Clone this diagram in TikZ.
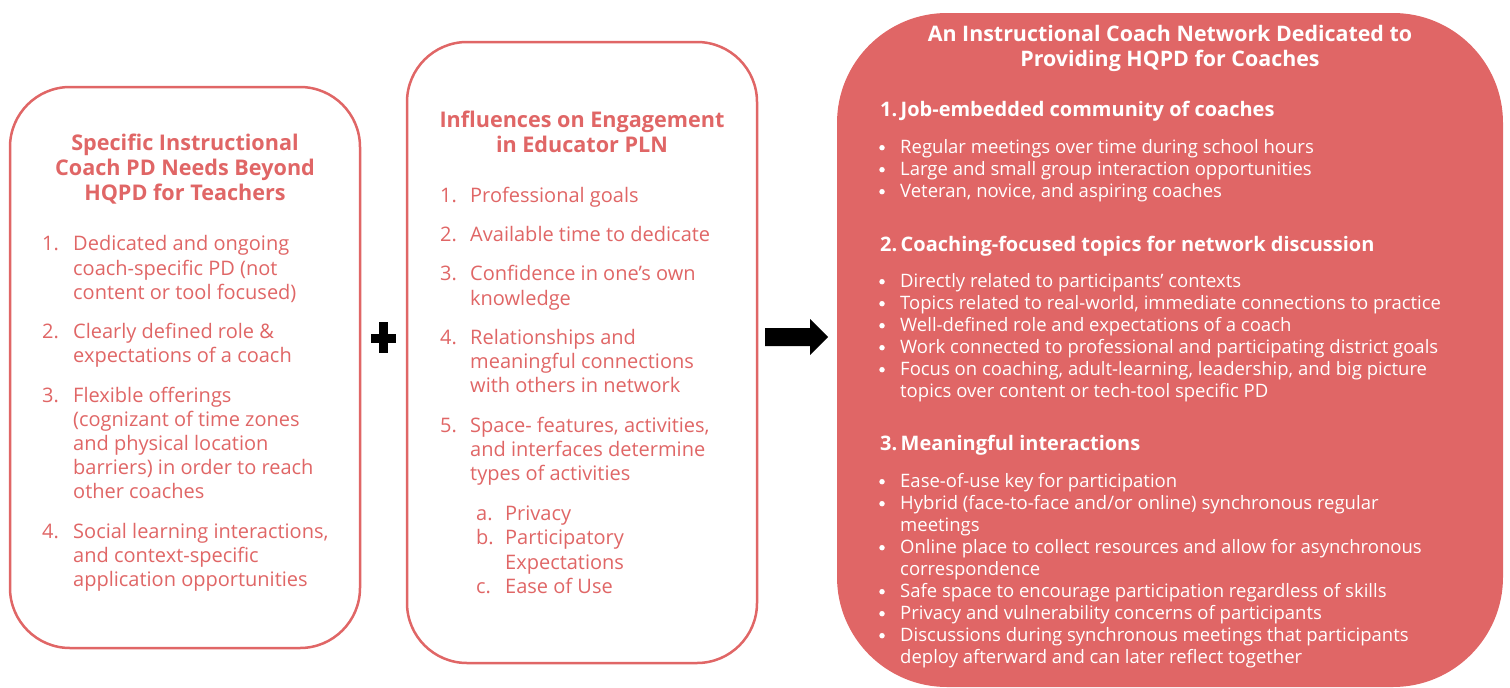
\documentclass[tikz,border=0pt]{standalone}
\usepackage{fontspec}
\setmainfont{Open Sans}
\definecolor{coral}{HTML}{E06666}
\begin{document}
\begin{tikzpicture}[x=1pt,y=-1pt,
  panel/.style={draw=coral, line width=2.5pt, rounded corners=60pt, fill=white, inner sep=0},
  bigpanel/.style={fill=coral, rounded corners=110pt, inner sep=0},
  head/.style={font=\bfseries\fontsize{21.6}{25}\selectfont, text=coral, inner sep=0, anchor=base},
  whead/.style={font=\bfseries\fontsize{21.4}{25}\selectfont, text=white, inner sep=0, anchor=base},
  shead/.style={font=\bfseries\fontsize{20}{24}\selectfont, text=white, inner sep=0, anchor=base west},
  txt/.style={font=\fontsize{20}{24}\selectfont, text=coral, inner sep=0, anchor=base west},
  wtxt/.style={font=\fontsize{18.5}{22}\selectfont, text=white, inner sep=0, anchor=base west},
  dot/.style={circle, fill=white, inner sep=0, minimum size=5.5pt}]
\useasboundingbox (0,0) rectangle (1510,688);

% three panels
\node[panel, minimum width=350pt, minimum height=561pt] (needs) at (185,367.5) {};
\node[panel, minimum width=350pt, minimum height=621pt] (infl) at (582,352.5) {};
\node[bigpanel, minimum width=666pt, minimum height=674pt] (network) at (1170,350) {};

% plus sign
\fill (371,333.5) rectangle (396,342.5);
\fill (379,322) rectangle (388,353);
% block arrow
\fill (765,328) -- (810,328) -- (810,319) -- (828,337) -- (810,355) -- (810,346) -- (765,346) -- cycle;

\begin{scope}[yshift=-1.2pt]
% ---- left panel
\node[head] (t1a) at (185,149.5) {Specific Instructional};
\node[head] (t1b) at (185,174.5) {Coach PD Needs Beyond};
\node[head] (t1c) at (185,199.5) {HQPD for Teachers};
\foreach \y/\n [count=\i] in {249/1., 337/2., 401/3., 537/4.}
  \node[txt] (n1-\i) at (42,\y) {\n};
\foreach \y/\t [count=\i] in {249/{Dedicated and ongoing}, 274/{coach-specific PD (not}, 298/{content or tool focused)},
  337/{Clearly defined role \&}, 361/{expectations of a coach},
  401/{Flexible offerings}, 425/{(cognizant of time zones}, 449/{and physical location}, 473/{barriers) in order to reach}, 497/{other coaches},
  537/{Social learning interactions,}, 561/{and context-specific}, 585/{application opportunities}}
  \node[txt] (l1-\i) at (73,\y) {\t};

% ---- middle panel
\node[head] (t2a) at (582,126.5) {Influences on Engagement};
\node[head] (t2b) at (582,151.5) {in Educator PLN};
\foreach \y/\n [count=\i] in {201/1., 240/2., 279/3., 343/4., 431/5.}
  \node[txt] (n2-\i) at (440,\y) {\n};
\foreach \y/\t [count=\i] in {201/{Professional goals}, 240/{Available time to dedicate},
  279/{Confidence in one’s own}, 304/{knowledge},
  343/{Relationships and}, 367/{meaningful connections}, 391/{with others in network},
  431/{Space- features, activities,}, 455/{and interfaces determine}, 479/{types of activities}}
  \node[txt] (l2-\i) at (470,\y) {\t};
\foreach \y/\n [count=\i] in {519/a., 543/b., 592/c.}
  \node[txt] (s2-\i) at (476,\y) {\n};
\foreach \y/\t [count=\i] in {519/{Privacy}, 543/{Participatory}, 568/{Expectations}, 592/{Ease of Use}}
  \node[txt] (m2-\i) at (505,\y) {\t};

% ---- right panel
\node[whead] (t3a) at (1170,40.5) {An Instructional Coach Network Dedicated to};
\node[whead] (t3b) at (1170,65.5) {Providing HQPD for Coaches};
\node[shead] (h1) at (880,115) {1.\,Job-embedded community of coaches};
\node[shead] (h2) at (880,250) {2.\,Coaching-focused topics for network discussion};
\node[shead] (h3) at (880,449) {3.\,Meaningful interactions};
\foreach \y [count=\i] in {152,174,196, 286,308,330,352,374, 486,508,552,596,618,640}
  \node[dot] (d-\i) at (882,\y-5.5) {};
\foreach \y/\t [count=\i] in {152/{Regular meetings over time during school hours},
  174/{Large and small group interaction opportunities},
  196/{Veteran, novice, and aspiring coaches},
  286/{Directly related to participants’ contexts},
  308/{Topics related to real-world, immediate connections to practice},
  330/{Well-defined role and expectations of a coach},
  352/{Work connected to professional and participating district goals},
  374/{Focus on coaching, adult-learning, leadership, and big picture},
  396/{topics over content or tech-tool specific PD},
  486/{Ease-of-use key for participation},
  508/{Hybrid (face-to-face and/or online) synchronous regular},
  530/{meetings},
  552/{Online place to collect resources and allow for asynchronous},
  574/{correspondence},
  596/{Safe space to encourage participation regardless of skills},
  618/{Privacy and vulnerability concerns of participants},
  640/{Discussions during synchronous meetings that participants},
  662/{deploy afterward and can later reflect together}}
  \node[wtxt] (l3-\i) at (900,\y) {\t};
\end{scope}
\end{tikzpicture}
\end{document}
